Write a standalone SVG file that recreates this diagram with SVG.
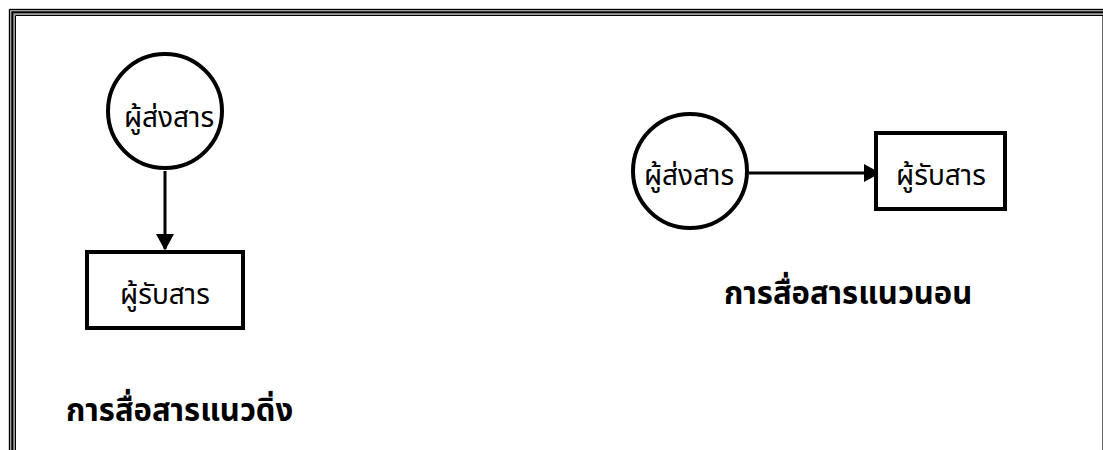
<svg xmlns="http://www.w3.org/2000/svg" width="1103" height="450" viewBox="0 0 1103 450">
<style>
.node{fill:#fff;stroke:#000;stroke-width:4}
.lbl{font-family:"Noto Sans Thai","Noto Sans","DejaVu Sans",sans-serif;font-size:28px;fill:#000;text-anchor:middle;dominant-baseline:central}
.title{font-family:"Noto Sans Thai","Noto Sans","DejaVu Sans",sans-serif;font-size:31px;font-weight:bold;fill:#000}
.edge{stroke:#000;stroke-width:3;fill:none}
</style>
<defs>
<marker id="arr" markerWidth="6" markerHeight="6" refX="5" refY="3" orient="auto" markerUnits="strokeWidth">
<path d="M0,0 L5.5,3 L0,6 Z" fill="#000"/>
</marker>
</defs>
<rect width="1103" height="450" fill="#fff"/>
<g id="frame">
<path d="M9,450 V9 H1103" fill="none" stroke="#a0a0a0" stroke-width="1"/>
<path d="M10.5,450 V10.5 H1103" fill="none" stroke="#a0a0a0" stroke-width="2"/>
<path d="M14,450 V14 H1103" fill="none" stroke="#a0a0a0" stroke-width="2"/>
<path d="M9.5,450 V9.5 H1103" fill="none" stroke="#000" stroke-width="1"/>
<path d="M12.3,450 V12.3 H1103" fill="none" stroke="#000" stroke-width="2"/>
<path d="M15.5,450 V15.5 H1103" fill="none" stroke="#000" stroke-width="1"/>
<line x1="1102.5" y1="16" x2="1102.5" y2="450" stroke="#666" stroke-width="1"/>
</g>
<g id="connectors">
<line class="edge" x1="165" y1="171" x2="165" y2="249" marker-end="url(#arr)"/>
<line class="edge" x1="749" y1="173" x2="879" y2="173" marker-end="url(#arr)"/>
</g>
<g id="sender-v">
<circle class="node" cx="165" cy="111" r="57"/>
<text class="lbl" x="169" y="118">ผู้ส่งสาร</text>
</g>
<g id="receiver-v">
<rect class="node" x="87" y="252" width="156" height="76"/>
<text class="lbl" x="165" y="295">ผู้รับสาร</text>
</g>
<g id="sender-h">
<circle class="node" cx="690" cy="171" r="57"/>
<text class="lbl" x="689" y="176">ผู้ส่งสาร</text>
</g>
<g id="receiver-h">
<rect class="node" x="876" y="133" width="129" height="76"/>
<text class="lbl" x="941" y="176">ผู้รับสาร</text>
</g>
<text id="title-v" class="title" x="66" y="421">การสื่อสารแนวดิ่ง</text>
<text id="title-h" class="title" x="724" y="304">การสื่อสารแนวนอน</text>
</svg>
